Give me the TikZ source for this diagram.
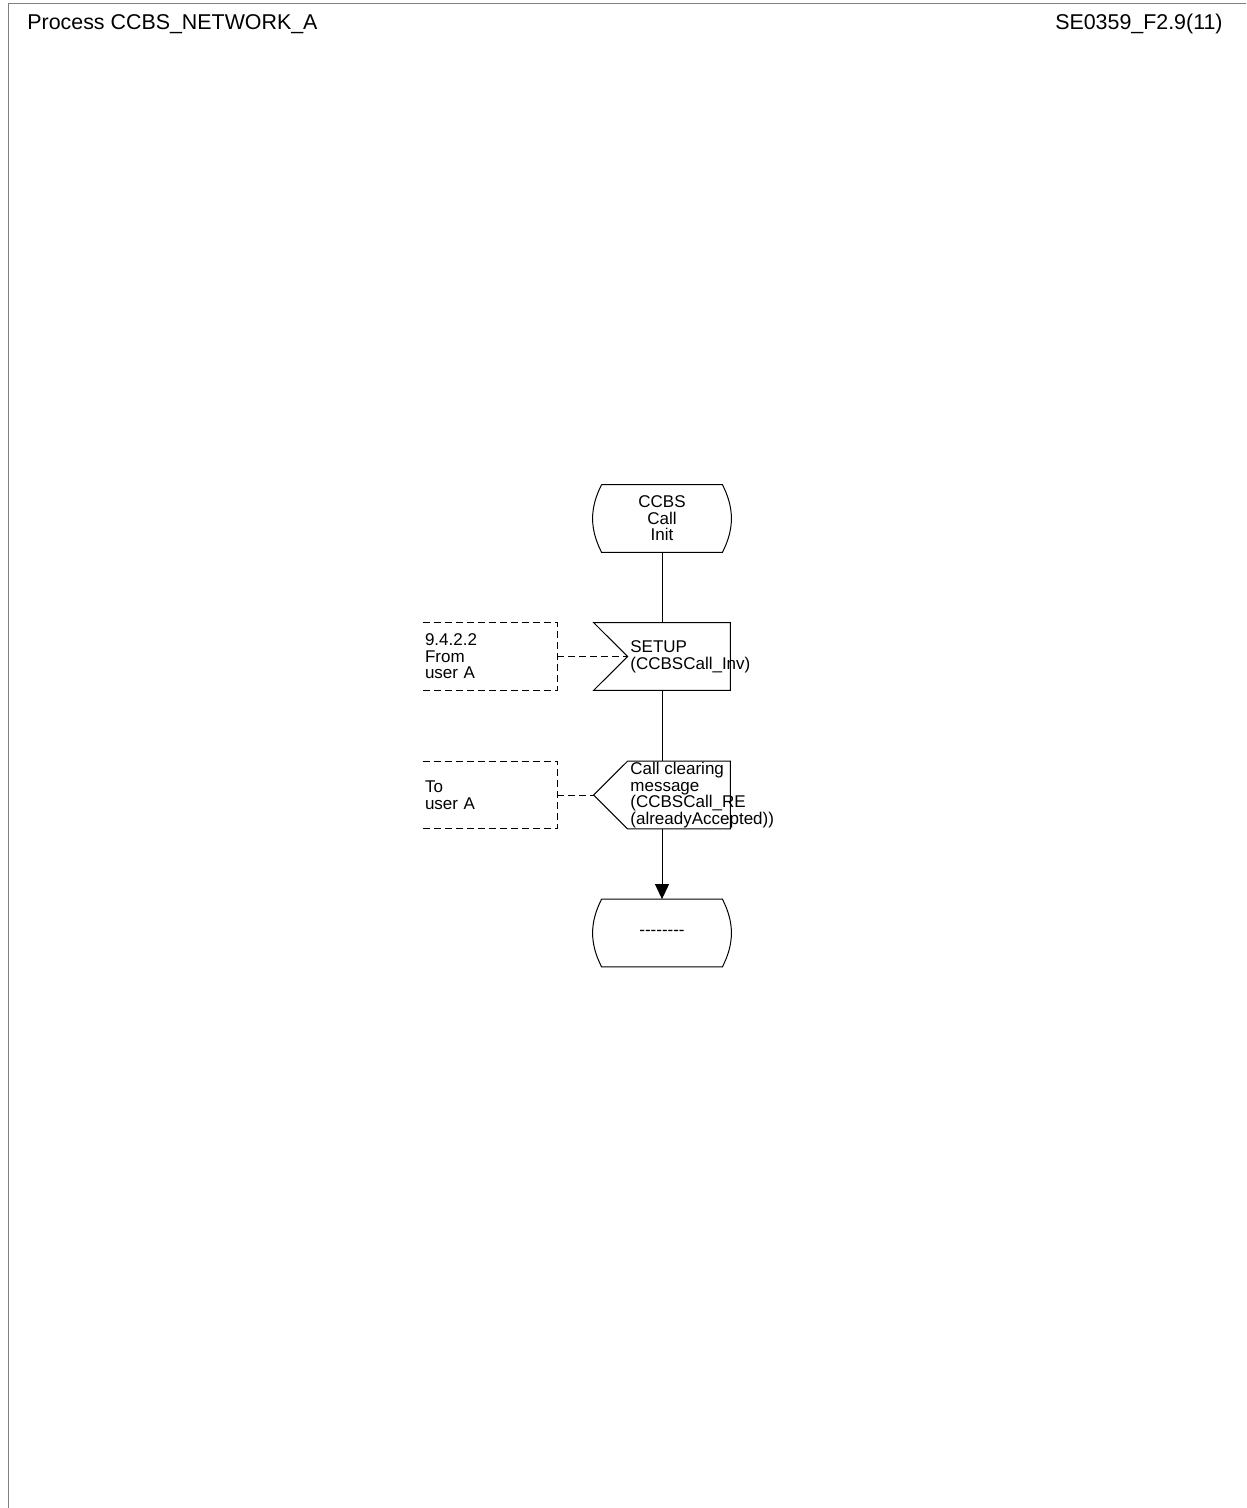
\documentclass[tikz,border=0pt]{standalone}
\usepackage{fontspec}
\setmainfont{Liberation Sans}
\usetikzlibrary{arrows.meta}

\begin{document}
\begin{tikzpicture}[x=0.5pt,y=0.5pt,
  state/.style={minimum width=60pt,minimum height=33.5pt,inner sep=0pt,align=center,font=\fontsize{8.5}{8.3}\selectfont},
  sig/.style={minimum width=68pt,minimum height=33.5pt,inner sep=0pt},
  sigtext/.style={anchor=west,inner sep=0pt,align=left,font=\fontsize{8.5}{8.3}\selectfont},
  note/.style={minimum width=67pt,minimum height=33.5pt,text width=65pt,inner xsep=1pt,inner ysep=0pt,align=left,font=\fontsize{8.5}{8.3}\selectfont},
  comment/.style={line width=0.5pt,dash pattern=on 3.5pt off 2pt},
  flow/.style={line width=0.5pt}]
\useasboundingbox (0,0) rectangle (1246,-1508);
% frame and heading
\draw[line width=0.8pt,black!50] (8.5,-1508) -- (8.5,-3.5) -- (1246,-3.5);
\node[anchor=base west,inner sep=0pt,font=\fontsize{10.7}{13}\selectfont] (title) at (27,-30) {Process CCBS\_NETWORK\_A};
\node[anchor=base east,inner sep=0pt,font=\fontsize{10.7}{13}\selectfont] (page) at (1223,-30) {SE0359\_F2.9(11)};
% states
\node[state] (init) at (662,-518.5) {CCBS\\Call\\Init};
\draw[flow] (init.north west) -- (init.north east) to[bend left=27] (init.south east)
  -- (init.south west) to[bend left=27] (init.north west);
\node[state] (stop) at (662,-933) {-{}-{}-{}-{}-{}-{}-{}-};
\draw[flow] (stop.north west) -- (stop.north east) to[bend left=27] (stop.south east)
  -- (stop.south west) to[bend left=27] (stop.north west);
% input signal
\node[sig] (setup) at (662,-656.5) {};
\draw[flow] (setup.north west) -- (setup.north east) -- (setup.south east)
  -- (setup.south west) -- ([xshift=17pt]setup.west) -- cycle;
\node[sigtext] (setuptext) at (630,-657) {SETUP\\(CCBSCall\_Inv)};
% output signal
\node[sig] (clear) at (662,-795) {};
\draw[flow] ([xshift=17pt]clear.north west) -- (clear.north east) -- (clear.south east)
  -- ([xshift=17pt]clear.south west) -- (clear.west) -- cycle;
\node[sigtext] (cleartext) at (630,-795) {Call clearing\\message\\(CCBSCall\_RE\\(alreadyAccepted))};
% comments
\node[note] (fromA) at (490,-656.5) {9.4.2.2\\From\\user A};
\draw[comment] (fromA.north west) -- (fromA.north east) -- (fromA.south east) -- (fromA.south west);
\node[note] (toA) at (490,-795) {To\\user A};
\draw[comment] (toA.north west) -- (toA.north east) -- (toA.south east) -- (toA.south west);
\draw[comment] (fromA.east) -- ([xshift=17pt]setup.west);
\draw[comment] (toA.east) -- (clear.west);
% flow lines
\draw[flow] (init.south) -- (setup.north);
\draw[flow] (setup.south) -- (clear.north);
\draw[flow,-{Triangle[width=7pt,length=7.5pt]}] (clear.south) -- (stop.north);
\end{tikzpicture}
\end{document}
